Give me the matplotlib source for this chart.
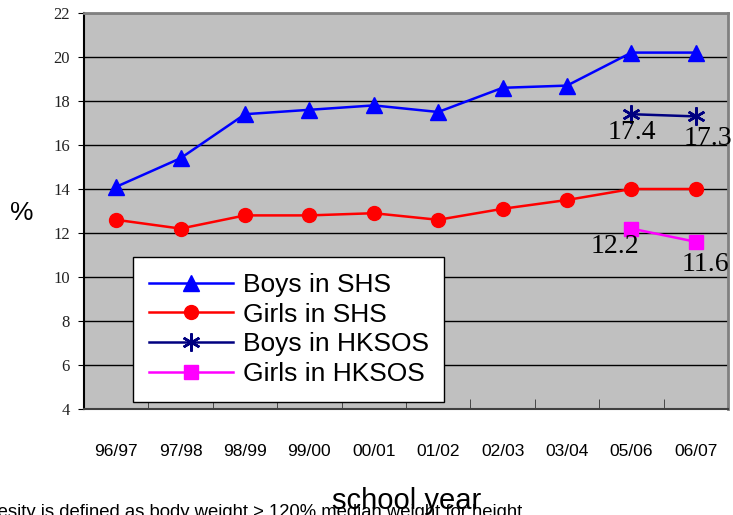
import numpy as np
import matplotlib
matplotlib.use('Agg')
import matplotlib.pyplot as plt

# Data
years = ["96/97", "97/98", "98/99", "99/00", "00/01", "01/02", "02/03", "03/04", "05/06", "06/07"]
boys_shs = [14.1, 15.4, 17.4, 17.6, 17.8, 17.5, 18.6, 18.7, 20.2, 20.2]
girls_shs = [12.6, 12.2, 12.8, 12.8, 12.9, 12.6, 13.1, 13.5, 14.0, 14.0]
hksos_years = ["05/06", "06/07"]
boys_hksos = [17.4, 17.3]
girls_hksos = [12.2, 11.6]
y_ticks = [4, 6, 8, 10, 12, 14, 16, 18, 20, 22]

serif = ['Liberation Serif', 'DejaVu Serif']
narrow = ['Liberation Sans Narrow', 'Liberation Sans', 'DejaVu Sans']
sans = ['Liberation Sans', 'DejaVu Sans']

fig = plt.figure(figsize=(7.33, 5.15), dpi=100)
ax = fig.add_axes([84 / 733, 1 - 409 / 515, 644 / 733, 396 / 515])
ax.set_facecolor('#C0C0C0')

x = np.arange(len(years))
xh = np.array([years.index(y) for y in hksos_years])

ax.plot(x, boys_shs, color='#0000FF', lw=1.8, marker='^', ms=12, label='Boys in SHS')
ax.plot(x, girls_shs, color='#FF0000', lw=1.8, marker='o', ms=10, label='Girls in SHS')
ax.plot(xh, boys_hksos, color='#000080', lw=1.8, marker=(6, 2, 0), ms=13, mew=1.8,
        label='Boys in HKSOS')
ax.plot(xh, girls_hksos, color='#FF00FF', lw=1.8, marker='s', ms=10, label='Girls in HKSOS')

# value labels for the HKSOS points
boys_offsets = [(0, -13), (9, -16)]
for (xi, v), off in zip(zip(xh, boys_hksos), boys_offsets):
    ax.annotate(f"{v}", (xi, v), xytext=off, textcoords='offset points',
                ha='center', va='center', fontsize=20, family=serif, color='black')
girls_offsets = [(-12, -13), (7, -16)]
for (xi, v), off in zip(zip(xh, girls_hksos), girls_offsets):
    ax.annotate(f"{v}", (xi, v), xytext=off, textcoords='offset points',
                ha='center', va='center', fontsize=20, family=serif, color='black')

ax.set_xlim(-0.5, len(years) - 0.5)
ax.set_ylim(4, 22)
ax.set_yticks(y_ticks)
ax.set_yticklabels([str(t) for t in y_ticks], family=serif, fontsize=12, color='#222222')
ax.yaxis.grid(True, color='black', lw=1)
ax.set_axisbelow(True)
ax.tick_params(axis='y', direction='out', length=4, pad=6)

ax.set_xticks(x)
ax.set_xticklabels(years, family=narrow, fontsize=12.5)
ax.tick_params(axis='x', which='major', length=0, pad=25)
ax.set_xticks(np.arange(0.5, len(years) - 1, 1), minor=True)
ax.tick_params(axis='x', which='minor', direction='in', length=7, color='#333333')

ax.spines['left'].set_color('black')
ax.spines['left'].set_linewidth(1.5)
ax.spines['bottom'].set_color('#404040')
ax.spines['bottom'].set_linewidth(1.5)
ax.spines['top'].set_color('#808080')
ax.spines['top'].set_linewidth(2)
ax.spines['right'].set_color('#808080')
ax.spines['right'].set_linewidth(2)

leg = ax.legend(loc='upper left', bbox_to_anchor=(133 / 733, 1 - 257 / 515),
                bbox_transform=fig.transFigure, frameon=True, fancybox=False,
                prop={'family': sans, 'size': 19}, handlelength=3.2,
                labelspacing=0.22, borderpad=0.6, handletextpad=0.35, borderaxespad=0)
leg.get_frame().set_edgecolor('black')
leg.get_frame().set_linewidth(1)
leg.get_frame().set_facecolor('white')
leg.get_frame().set_alpha(1)

fig.text(22 / 733, 1 - 213 / 515, '%', ha='center', va='center', family=sans, fontsize=19)
fig.text(407 / 733, 1 - 509 / 515, 'school year', ha='center', va='baseline',
         family=sans, fontsize=21)
fig.text(522 / 733, 1 - 521 / 515, 'Obesity is defined as body weight > 120% median weight for height',
         ha='right', va='bottom', family=sans, fontsize=13.3)

fig.savefig('out.png', dpi=100)
